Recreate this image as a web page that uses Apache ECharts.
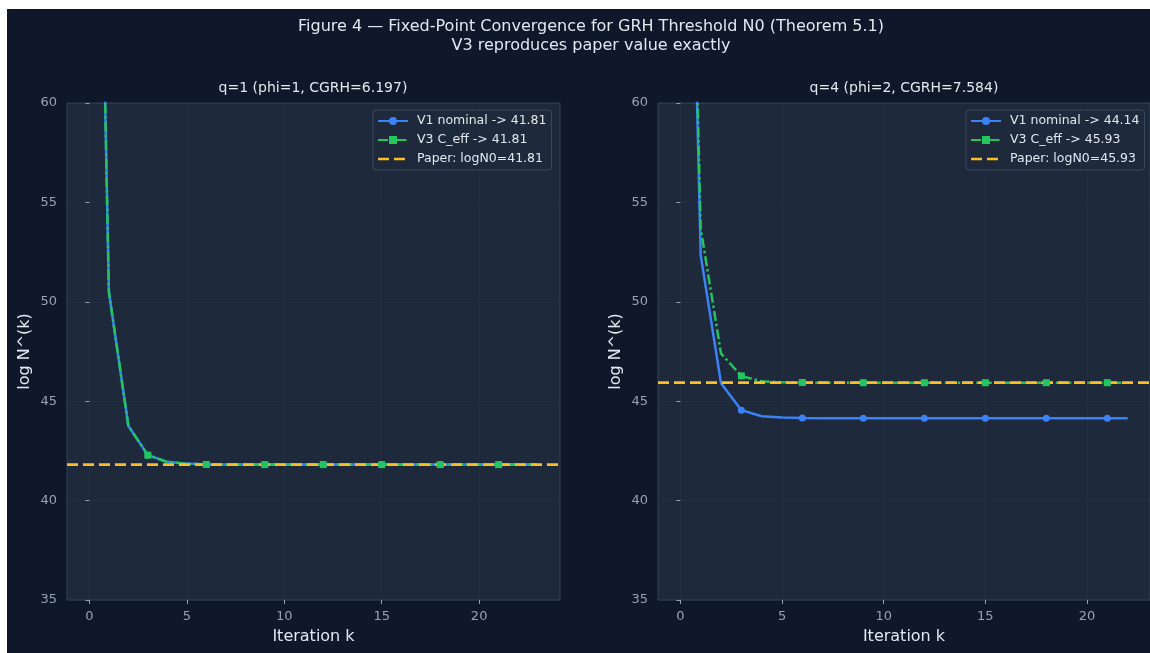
<!DOCTYPE html>
<html>
<head>
<meta charset="utf-8">
<script src="https://cdn.jsdelivr.net/npm/echarts@6/dist/echarts.min.js"></script>
<style>
html, body { margin: 0; padding: 0; background: #ffffff; }
#chart { position: absolute; left: 7px; top: 9px; width: 1143px; height: 644px; }
</style>
</head>
<body>
<div id="chart"></div>
<script>
// iteration index k for each panel
const iterLeft = [0,1,2,3,4,5,6,7,8,9,10,11,12,13,14,15,16,17,18,19,20,21,22,23];
const iterRight = [0,1,2,3,4,5,6,7,8,9,10,11,12,13,14,15,16,17,18,19,20,21,22];

// q=1 panel
const v1Left = [100,50.5,43.75,42.3,41.95,41.86,41.82,41.81,41.81,41.81,41.81,41.81,41.81,41.81,41.81,41.81,41.81,41.81,41.81,41.81,41.81,41.81,41.81,41.81];
const v3Left = [100,50.5,43.75,42.28,41.94,41.85,41.82,41.81,41.81,41.81,41.81,41.81,41.81,41.81,41.81,41.81,41.81,41.81,41.81,41.81,41.81,41.81,41.81,41.81];
const paperLeft = 41.81;

// q=4 panel
const v1Right = [95,52.35,45.9,44.55,44.24,44.18,44.15,44.14,44.14,44.14,44.14,44.14,44.14,44.14,44.14,44.14,44.14,44.14,44.14,44.14,44.14,44.14,44.14];
const v3Right = [96,53.7,47.4,46.27,46.0,45.95,45.94,45.93,45.93,45.93,45.93,45.93,45.93,45.93,45.93,45.93,45.93,45.93,45.93,45.93,45.93,45.93,45.93];
const paperRight = 45.93;

const xTicks = [0, 5, 10, 15, 20];

const BLUE = '#3b82f6', GREEN = '#22c55e', YELLOW = '#fbbf24';
const TXT = '#e2e8f0', TICK = '#94a3b8';
const FONT = 'DejaVu Sans';
const GREEN_DASH = [10, 3, 2.5, 3];
const GRIDLINE = 'rgba(71,85,105,0.13)';

const pairs = (ks, vs) => ks.map((k, i) => [k, vs[i]]);
const everyThird = (val, p) => (p.dataIndex % 3 === 0 ? 7 : 0);

// two short dashes; the tiny corner squares pin the icon box so the bars stay thin
const dashIcon = 'path://M0,0h0.05v0.05h-0.05z M0,10h0.05v0.05h-0.05z M0,3.7h11v2.6h-11z M16,3.7h11v2.6h-11z M30,0h0.05v0.05h-0.05z';

function xAxisFor(idx, min, max) {
    return {
        type: 'value', gridIndex: idx, min: min, max: max,
        name: 'Iteration k', nameLocation: 'middle', nameGap: 29,
        nameTextStyle: {color: TXT, fontSize: 16, fontFamily: FONT},
        axisLine: {show: false},
        axisTick: {show: true, length: 4, lineStyle: {color: TICK}, customValues: xTicks},
        axisLabel: {color: TICK, fontSize: 13, fontFamily: FONT, margin: 10, customValues: xTicks},
        splitLine: {show: true, lineStyle: {color: GRIDLINE, width: 1}}
    };
}

function yAxisFor(idx) {
    return {
        type: 'value', gridIndex: idx, min: 35, max: 60, interval: 5,
        name: 'log N^(k)', nameLocation: 'middle', nameGap: 34,
        nameTextStyle: {color: TXT, fontSize: 16, fontFamily: FONT},
        axisLine: {show: false},
        axisTick: {show: true, length: 4, lineStyle: {color: TICK}},
        axisLabel: {color: TICK, fontSize: 13, fontFamily: FONT, margin: 10},
        splitLine: {show: true, lineStyle: {color: GRIDLINE, width: 1}}
    };
}

function panelSeries(idx, ks, v1, v3, paper, xmin, xmax) {
    return [
        {
            name: 'V1 nominal -> ' + v1[v1.length - 1].toFixed(2),
            type: 'line', xAxisIndex: idx, yAxisIndex: idx,
            data: pairs(ks, v1), clip: true,
            symbol: 'circle', symbolSize: everyThird,
            lineStyle: {color: BLUE, width: 2.5},
            itemStyle: {color: BLUE},
            emphasis: {disabled: true}, animation: false
        },
        {
            name: 'V3 C_eff -> ' + v3[v3.length - 1].toFixed(2),
            type: 'line', xAxisIndex: idx, yAxisIndex: idx,
            data: pairs(ks, v3), clip: true,
            symbol: 'rect', symbolSize: everyThird,
            lineStyle: {color: GREEN, width: 2.5, type: GREEN_DASH},
            itemStyle: {color: GREEN},
            emphasis: {disabled: true}, animation: false
        },
        {
            name: 'Paper: logN0=' + paper.toFixed(2),
            type: 'line', xAxisIndex: idx, yAxisIndex: idx,
            data: [[xmin, paper], [xmax, paper]], clip: true,
            symbol: 'none',
            lineStyle: {color: YELLOW, width: 2.8, type: [11, 5]},
            itemStyle: {color: YELLOW},
            emphasis: {disabled: true}, animation: false
        }
    ];
}

const leftSeries = panelSeries(0, iterLeft, v1Left, v3Left, paperLeft, -1.15, 24.15);
const rightSeries = panelSeries(1, iterRight, v1Right, v3Right, paperRight, -1.1, 23.1);

function legendFor(series, left) {
    return {
        orient: 'vertical', left: left, top: 101,
        data: [
            {name: series[0].name},
            {name: series[1].name, lineStyle: {type: GREEN_DASH}},
            {name: series[2].name, icon: dashIcon, itemStyle: {color: YELLOW}}
        ],
        itemWidth: 30, itemHeight: 10, itemGap: 5,
        padding: [4, 5, 4, 4],
        backgroundColor: '#1e293b', borderColor: '#3b4a60', borderWidth: 1, borderRadius: 3,
        textStyle: {color: TXT, fontSize: 12.5, fontFamily: FONT, lineHeight: 14, padding: [0, 0, 0, 4]},
        selectedMode: false
    };
}

const chart = echarts.init(document.getElementById('chart'));
chart.setOption({
    backgroundColor: '#0f172a',
    animation: false,
    graphic: [
        {type: 'text', x: 584, y: 18, style: {text: 'Figure 4 — Fixed-Point Convergence for GRH Threshold N0 (Theorem 5.1)', fill: TXT, font: '16px "DejaVu Sans"', align: 'center', verticalAlign: 'middle'}},
        {type: 'text', x: 584, y: 37, style: {text: 'V3 reproduces paper value exactly', fill: TXT, font: '16px "DejaVu Sans"', align: 'center', verticalAlign: 'middle'}},
        {type: 'text', x: 306, y: 79, style: {text: 'q=1 (phi=1, CGRH=6.197)', fill: TXT, font: '14px "DejaVu Sans"', align: 'center', verticalAlign: 'middle'}},
        {type: 'text', x: 897, y: 79, style: {text: 'q=4 (phi=2, CGRH=7.584)', fill: TXT, font: '14px "DejaVu Sans"', align: 'center', verticalAlign: 'middle'}}
    ],
    grid: [
        {left: 60, top: 94, width: 493, height: 497, show: true, backgroundColor: '#1e293b', borderColor: '#334155', borderWidth: 1},
        {left: 651, top: 94, width: 492, height: 497, show: true, backgroundColor: '#1e293b', borderColor: '#334155', borderWidth: 1}
    ],
    xAxis: [xAxisFor(0, -1.15, 24.15), xAxisFor(1, -1.1, 23.1)],
    yAxis: [yAxisFor(0), yAxisFor(1)],
    legend: [legendFor(leftSeries, 366), legendFor(rightSeries, 959)],
    series: leftSeries.concat(rightSeries)
});
</script>
</body>
</html>
